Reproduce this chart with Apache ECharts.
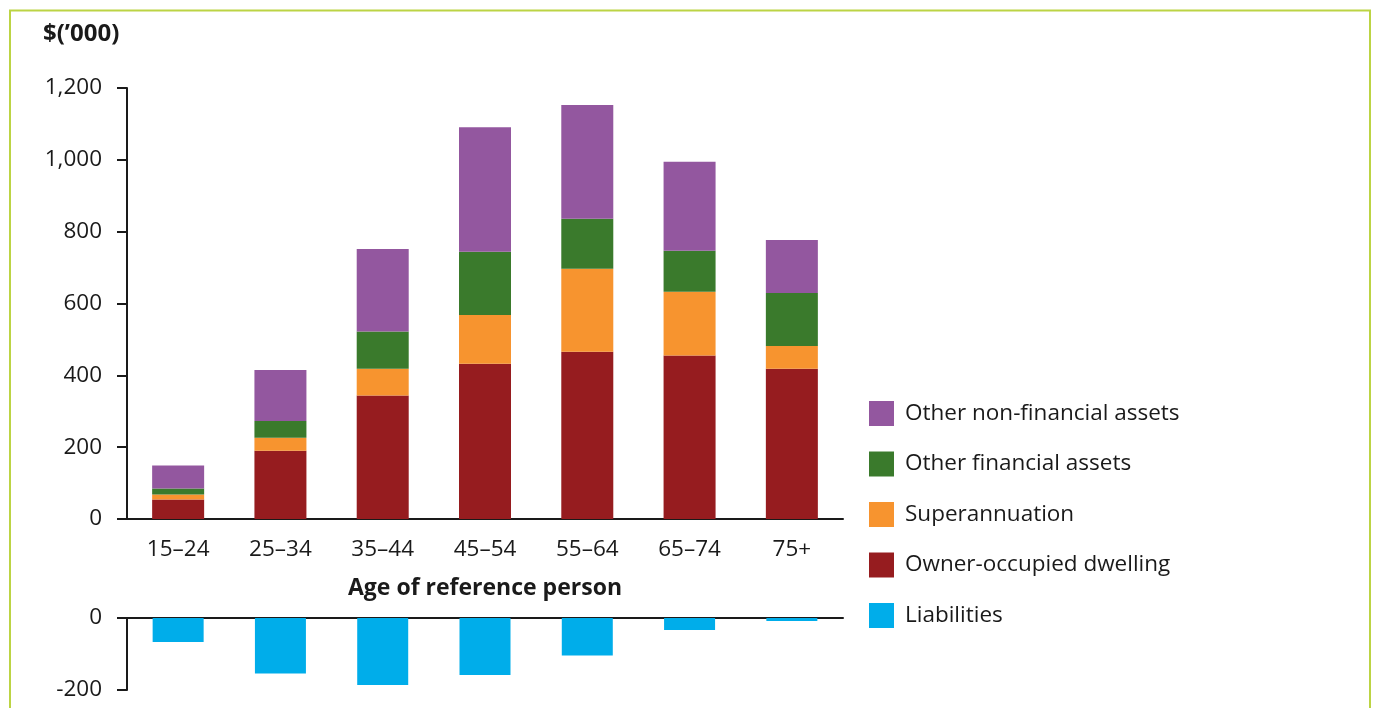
<!DOCTYPE html>
<html>
<head>
<meta charset="utf-8">
<script src="https://cdn.jsdelivr.net/npm/echarts@6/dist/echarts.min.js"></script>
<style>
html,body{margin:0;padding:0;background:#fff;}
#chart{width:1376px;height:708px;}
</style>
</head>
<body>
<div id="chart"></div>
<script>
var categories = ['15–24','25–34','35–44','45–54','55–64','65–74','75+'];
var dwelling = [54, 190, 344, 432, 466, 455, 418];
var superannuation = [14, 36, 74, 136, 231, 178, 64];
var otherFinancial = [17, 47, 104, 176, 139, 114, 147];
var otherNonFinancial = [64, 142, 230, 347, 317, 248, 148];
var liabilities = [-67, -154, -186, -158, -104, -33, -8];

var FONT = 'Open Sans';
var TXT = '#1a1a1a';
var chart = echarts.init(document.getElementById('chart'));
var lbl = {color: TXT, fontFamily: FONT, fontSize: 22.5};
var opt = {
  animation: false,
  backgroundColor: '#fff',
  title: {
    text: "$(’000)", left: 43, top: 22, padding: 0,
    textStyle: {fontFamily: FONT, fontWeight: 'bold', fontSize: 24, color: TXT}
  },
  graphic: [{
    type: 'rect', silent: true,
    shape: {x: 10, y: 10.5, width: 1360, height: 760},
    style: {fill: 'none', stroke: '#bcd444', lineWidth: 2}
  }],
  legend: {
    orient: 'vertical', left: 869, top: 401, padding: 0,
    itemWidth: 25, itemHeight: 25, itemGap: 25.5, icon: 'rect',
    textStyle: {fontFamily: FONT, fontSize: 22.5, color: TXT, padding: [0,0,0,6]},
    data: ['Other non-financial assets','Other financial assets','Superannuation','Owner-occupied dwelling','Liabilities']
  },
  grid: [
    {left: 127, top: 88, width: 716, height: 431},
    {left: 127, top: 618, width: 716, height: 72}
  ],
  xAxis: [{
    type: 'category', gridIndex: 0, data: categories,
    axisLine: {lineStyle: {color: TXT, width: 2}},
    axisTick: {show: false},
    axisLabel: Object.assign({margin: 19}, lbl),
    name: 'Age of reference person', nameLocation: 'middle', nameGap: 58,
    nameTextStyle: {fontFamily: FONT, fontWeight: 'bold', fontSize: 23, color: TXT}
  }, {
    type: 'category', gridIndex: 1, data: categories, position: 'top',
    axisLine: {lineStyle: {color: TXT, width: 2}},
    axisTick: {show: false}, axisLabel: {show: false}
  }],
  yAxis: [{
    type: 'value', gridIndex: 0, min: 0, max: 1200, interval: 200,
    axisLine: {show: true, lineStyle: {color: TXT, width: 2}},
    axisTick: {show: true, length: 10, lineStyle: {color: TXT, width: 2}},
    splitLine: {show: false},
    axisLabel: Object.assign({margin: 25, formatter: function(v){return v.toLocaleString('en-US');}}, lbl)
  }, {
    type: 'value', gridIndex: 1, min: -200, max: 0, interval: 200,
    axisLine: {show: true, lineStyle: {color: TXT, width: 2}},
    axisTick: {show: true, length: 10, lineStyle: {color: TXT, width: 2}},
    splitLine: {show: false},
    axisLabel: Object.assign({margin: 25}, lbl)
  }],
  series: [
    {name: 'Owner-occupied dwelling', type: 'bar', stack: 'a', data: dwelling, barWidth: 52, itemStyle: {color: '#961c1f'}},
    {name: 'Superannuation', type: 'bar', stack: 'a', data: superannuation, barWidth: 52, itemStyle: {color: '#f7942f'}},
    {name: 'Other financial assets', type: 'bar', stack: 'a', data: otherFinancial, barWidth: 52, itemStyle: {color: '#3a7a2c'}},
    {name: 'Other non-financial assets', type: 'bar', stack: 'a', data: otherNonFinancial, barWidth: 52, itemStyle: {color: '#93579f'}},
    {name: 'Liabilities', type: 'bar', xAxisIndex: 1, yAxisIndex: 1, data: liabilities, barWidth: 51, itemStyle: {color: '#00adea'}}
  ]
};
chart.setOption(opt);
</script>
</body>
</html>
